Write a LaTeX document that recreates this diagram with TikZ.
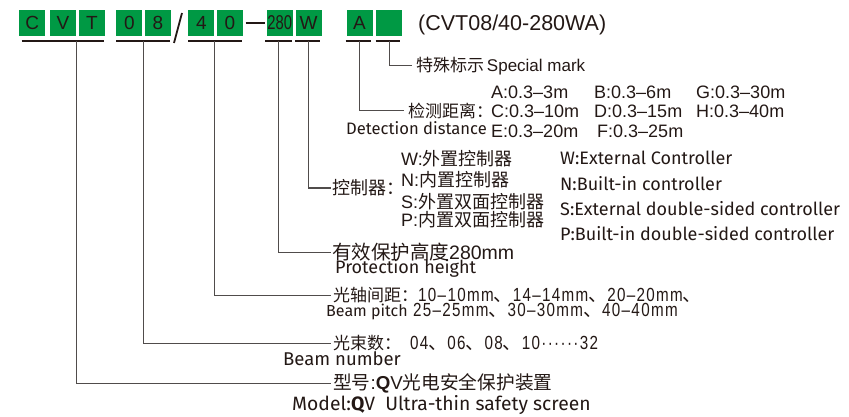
\documentclass[tikz,border=0pt]{standalone}
\usepackage{fontspec}
\setmainfont{Liberation Sans}
\newfontfamily\cjk{Noto Sans CJK SC}
\newfontfamily\eng{Fira Sans}
\newfontfamily\narrow[FakeStretch=0.8,LetterSpace=7]{Liberation Sans}
\newfontfamily\boxnarrow[FakeStretch=0.74]{Liberation Sans}
\usepackage{tikz}
\usepackage{xcolor}
\definecolor{codegreen}{RGB}{0,153,68}
\definecolor{inkbrown}{RGB}{35,24,21}
\definecolor{leadgray}{RGB}{80,76,75}
\newcommand{\fsz}[1]{\fontsize{#1}{#1}\selectfont}

\tikzset{
  codebox/.style={fill=codegreen, minimum width=26, minimum height=26, inner sep=0, text=inkbrown, font=\fontsize{19}{19}\selectfont},
  underbar/.style={inkbrown, line width=1.1},
  leader/.style={leadgray, line width=1},
  lbl/.style={anchor=west, inner sep=0, text=inkbrown},
  tag/.style={lbl, inner xsep=3},
}

\begin{document}
\begin{tikzpicture}[x=1pt, y=-1pt]
    \useasboundingbox (0,0) rectangle (849,417);
    % code boxes CVT08/40-280WA
    \node[codebox] (bC) at (32.3,23) {C};
    \node[codebox] (bV) at (63,23) {V};
    \node[codebox] (bT) at (92,23) {T};
    \node[codebox] (b0) at (129.3,23) {0};
    \node[codebox] (b8) at (158,23) {8};
    \node[codebox] (b4) at (201.3,23) {4};
    \node[codebox] (b00) at (230,23) {0};
    \node[codebox] (b280) at (279.7,23) {\boxnarrow\fsz{20}280};
    \node[codebox] (bW) at (308.5,23) {W};
    \node[codebox] (bA) at (359.5,23) {A};
    \node[codebox] (bX) at (388.5,23) {};
    \draw[inkbrown, line width=1.8] (174,43) -- (182,13);
    \draw[underbar] ([xshift=2.5pt]b00.east) -- ([xshift=-1.5pt]b280.west);
    \node[lbl] (title) at (418,25) {\fsz{21.5}(CVT08/40-280WA)};

    % underlines and drop points
    \draw[underbar] (21.7,41) -- (104,41);
    \draw[underbar] (116,41) -- (170,41);
    \draw[underbar] (188,41) -- (242,41);
    \draw[underbar] (265,41) -- (292,41);
    \draw[underbar] (295,41) -- (320,41);
    \draw[underbar] (345.7,41) -- (370.7,41);
    \draw[underbar] (375.7,41) -- (400,41);
    \coordinate (dCVT) at (76,41);
    \coordinate (d08) at (143,41);
    \coordinate (d40) at (214.5,41);
    \coordinate (d280) at (278.7,41);
    \coordinate (dW) at (308.5,41);
    \coordinate (dA) at (359.3,41);
    \coordinate (dX) at (389.3,41);

    % special mark
    \node[tag, inner xsep=4] (spec) at (412,66) {{\cjk\fsz{17}特殊标示} \fsz{17}Special mark};

    % detection distance
    \node[tag, inner xsep=4] (det) at (404,110.5) {\cjk\fsz{17}检测距离：};
    \node[lbl] (detEn) at (346,128) {\eng\fsz{16.6}Detection distance};
    \node[lbl] (rA) at (491,92) {\fsz{18}A:0.3–3m};
    \node[lbl] (rB) at (594,92) {\fsz{18}B:0.3–6m};
    \node[lbl] (rG) at (696,92) {\fsz{18}G:0.3–30m};
    \node[lbl] (rC) at (491,111.5) {\fsz{18}C:0.3–10m};
    \node[lbl] (rD) at (594,111.5) {\fsz{18}D:0.3–15m};
    \node[lbl] (rH) at (696,111.5) {\fsz{18}H:0.3–40m};
    \node[lbl] (rE) at (491,131.5) {\fsz{18}E:0.3–20m};
    \node[lbl] (rF) at (597,131.5) {\fsz{18}F:0.3–25m};

    % controller
    \node[tag, inner xsep=1.5] (ctrl) at (331,188) {\cjk\fsz{18}控制器：};
    \node[lbl] (cW) at (401,159) {\fsz{18}W:{\cjk 外置控制器}};
    \node[lbl] (cN) at (401,180) {\fsz{18}N:{\cjk 内置控制器}};
    \node[lbl] (cS) at (401,201.5) {\fsz{18}S:{\cjk 外置双面控制器}};
    \node[lbl] (cP) at (401,219.5) {\fsz{18}P:{\cjk 内置双面控制器}};
    \node[lbl] (eW) at (560,158.3) {\eng\fsz{18}W:External Controller};
    \node[lbl] (eN) at (560,183.3) {\eng\fsz{18}N:Built-in controller};
    \node[lbl] (eS) at (560,208.3) {\eng\fsz{18}S:External double-sided controller};
    \node[lbl] (eP) at (560,233.3) {\eng\fsz{18}P:Built-in double-sided controller};

    % protection height
    \node[tag, inner xsep=1] (height) at (331,252) {\fsz{19.5}{\cjk 有效保护高度}280mm};
    \node[lbl] (heightEn) at (335,268.5) {\eng\fsz{18}Protection height};

    % beam pitch
    \node[tag, inner xsep=2] (pitch) at (331,295.5) {\fsz{19}{\cjk\fsz{17}光轴间距：}{\narrow 10–10mm}{\cjk 、}{\narrow 14–14mm}{\cjk 、}{\narrow 20–20mm}{\cjk 、}};
    \node[lbl] (pitchEn) at (326,312) {\fsz{19}{\eng\fsz{16}Beam pitch} {\narrow 25–25mm}{\cjk 、}{\narrow 30–30mm}{\cjk 、}{\narrow 40–40mm}};

    % beam number
    \node[tag, inner xsep=2] (beams) at (331,343) {\fsz{19}{\cjk\fsz{17}光束数：}\hspace{9pt}{\narrow 04}{\cjk 、}{\narrow 06}{\cjk 、}{\narrow 08}{\cjk 、}{\narrow 10······32}};
    \node[lbl] (beamsEn) at (283,358.5) {\eng\fsz{18.5}Beam number};

    % model
    \node[tag, inner xsep=2] (model) at (331,383) {\fsz{18.7}{\cjk 型号}:{\bfseries Q}V{\cjk 光电安全保护装置}};
    \node[lbl] (modelEn) at (292,405) {\eng\fsz{19.3}Model:{\bfseries Q}V\ \ Ultra-thin safety screen};

    % leaders
    \draw[leader] (dX) |- (spec.west);
    \draw[leader] (dA) |- (det.west);
    \draw[leader] (dW) |- (ctrl.west);
    \draw[leader] (d280) |- (height.west);
    \draw[leader] (d40) |- (pitch.west);
    \draw[leader] (d08) |- (beams.west);
    \draw[leader] (dCVT) |- (model.west);
\end{tikzpicture}
\end{document}
